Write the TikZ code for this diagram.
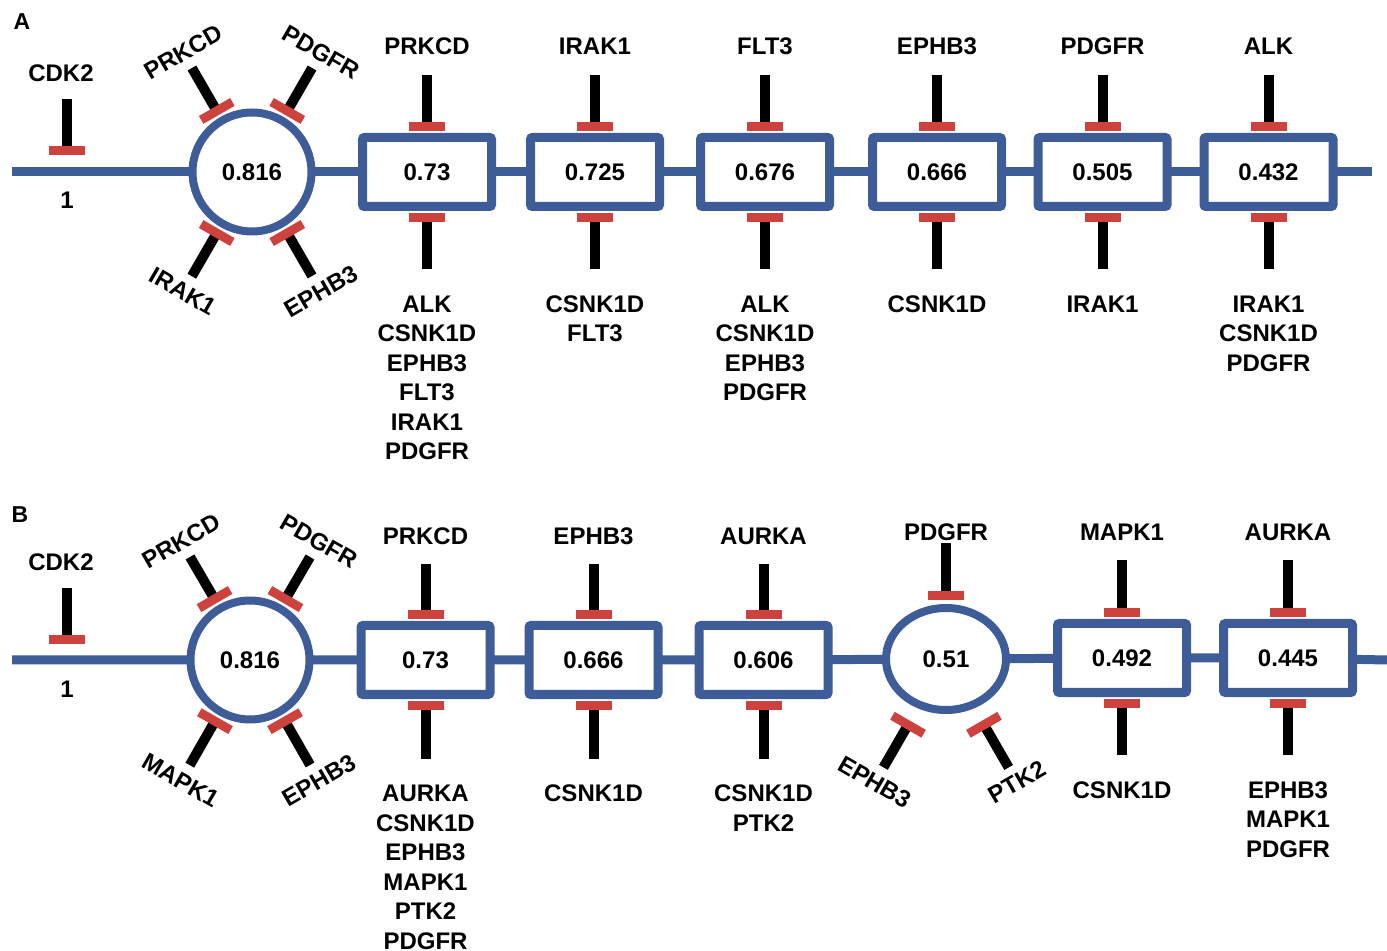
\documentclass[tikz,border=0pt]{standalone}
\usepackage{fontspec}
\setmainfont{Liberation Sans}
\usetikzlibrary{arrows.meta,shapes.geometric}
\definecolor{netblue}{RGB}{62,92,152}
\definecolor{hitred}{RGB}{206,66,62}
\tikzset{
  mainline/.style={draw=netblue,line width=4.5pt},
  valbox/.style={rectangle,draw=netblue,line width=4.5pt,fill=white,rounded corners=1pt,
    minimum width=64.5pt,minimum height=34.5pt,inner sep=0pt,outer sep=0pt,
    font=\fontsize{12}{14.75}\selectfont\bfseries},
  valcirc/.style={circle,draw=netblue,line width=4pt,fill=white,minimum size=59.5pt,
    inner sep=0pt,outer sep=0pt,font=\fontsize{12}{14.75}\selectfont\bfseries},
  valoval/.style={ellipse,draw=netblue,line width=4pt,fill=white,minimum width=60pt,
    minimum height=51pt,inner sep=0pt,outer sep=0pt,font=\fontsize{12}{14.75}\selectfont\bfseries},
  gene/.style={font=\fontsize{12}{14.75}\selectfont\bfseries,inner sep=0pt,outer sep=0pt,align=center},
  panel/.style={font=\fontsize{11.5}{13}\selectfont\bfseries,inner sep=0pt},
  inhib/.style={draw=black,line width=5pt,-{Bar[width=18pt,line width=4.5pt,color=hitred]}},
  boxhit/.style={inhib,shorten >=3.2pt},
}
\begin{document}
\begin{tikzpicture}[x=0.5pt,y=-0.5pt]
    \useasboundingbox (0,0) rectangle (1387,951);

    % panel A
    \node[panel] (panA) at (22,21.5) {A};
    \coordinate (startA) at (12,172);
    \coordinate (endA) at (1372,172);
    \coordinate (hitA) at (67,155);

    \node[valcirc] (cA) at (252,172) {0.816};
    \node[valbox] (bA1) at (427,172) {0.73};
    \node[valbox] (bA2) at (595,172) {0.725};
    \node[valbox] (bA3) at (765,172) {0.676};
    \node[valbox] (bA4) at (937,172) {0.666};
    \node[valbox] (bA5) at (1102.5,172) {0.505};
    \node[valbox] (bA6) at (1268.5,172) {0.432};

    \draw[mainline] (startA) -- (cA) -- (bA1) -- (bA2) -- (bA3) -- (bA4) -- (bA5) -- (bA6) -- (endA);

    \node[gene] (cdkA) at (61,73) {CDK2};
    \node[gene] (oneA) at (67,200) {1};
    \draw[inhib,shorten <=8.7pt] (cdkA.south -| hitA) -- (hitA);

    \node[gene,rotate=30] (pA1) at (183,52.5) {PRKCD};
    \node[gene,rotate=-30] (pA2) at (321,52.5) {PDGFR};
    \node[gene,rotate=-30] (pA3) at (183,291.5) {IRAK1};
    \node[gene,rotate=30] (pA4) at (321,291.5) {EPHB3};
    \draw[inhib,shorten <=4.7pt,shorten >=3.25pt] (pA1) -- (cA);
    \draw[inhib,shorten <=4.7pt,shorten >=3.25pt] (pA2) -- (cA);
    \draw[inhib,shorten <=4.7pt,shorten >=3.25pt] (pA3) -- (cA);
    \draw[inhib,shorten <=4.7pt,shorten >=3.25pt] (pA4) -- (cA);

    \node[gene,anchor=south] (tA1) at (427,55) {PRKCD};
    \node[gene,anchor=south] (tA2) at (595,55) {IRAK1};
    \node[gene,anchor=south] (tA3) at (765,55) {FLT3};
    \node[gene,anchor=south] (tA4) at (937,55) {EPHB3};
    \node[gene,anchor=south] (tA5) at (1102.5,55) {PDGFR};
    \node[gene,anchor=south] (tA6) at (1268.5,55) {ALK};
    \draw[boxhit,shorten <=10pt] (tA1) -- (bA1);
    \draw[boxhit,shorten <=10pt] (tA2) -- (bA2);
    \draw[boxhit,shorten <=10pt] (tA3) -- (bA3);
    \draw[boxhit,shorten <=10pt] (tA4) -- (bA4);
    \draw[boxhit,shorten <=10pt] (tA5) -- (bA5);
    \draw[boxhit,shorten <=10pt] (tA6) -- (bA6);

    \node[gene,anchor=north] (uA1) at (427,295.5) {ALK\\CSNK1D\\EPHB3\\FLT3\\IRAK1\\PDGFR};
    \node[gene,anchor=north] (uA2) at (595,295.5) {CSNK1D\\FLT3};
    \node[gene,anchor=north] (uA3) at (765,295.5) {ALK\\CSNK1D\\EPHB3\\PDGFR};
    \node[gene,anchor=north] (uA4) at (937,295.5) {CSNK1D};
    \node[gene,anchor=north] (uA5) at (1102.5,295.5) {IRAK1};
    \node[gene,anchor=north] (uA6) at (1268.5,295.5) {IRAK1\\CSNK1D\\PDGFR};
    \draw[boxhit,shorten <=13.25pt] (uA1) -- (bA1);
    \draw[boxhit,shorten <=13.25pt] (uA2) -- (bA2);
    \draw[boxhit,shorten <=13.25pt] (uA3) -- (bA3);
    \draw[boxhit,shorten <=13.25pt] (uA4) -- (bA4);
    \draw[boxhit,shorten <=13.25pt] (uA5) -- (bA5);
    \draw[boxhit,shorten <=13.25pt] (uA6) -- (bA6);

    % panel B
    \node[panel] (panB) at (20,514.5) {B};
    \coordinate (startB) at (12,660);
    \coordinate (endB) at (1387,660);
    \coordinate (hitB) at (67,644);

    \node[valcirc] (cB) at (250,660) {0.816};
    \node[valbox] (bB1) at (425.5,660) {0.73};
    \node[valbox] (bB2) at (593.5,660) {0.666};
    \node[valbox] (bB3) at (763.5,660) {0.606};
    \node[valoval] (oB) at (946,659) {0.51};
    \node[valbox] (bB4) at (1122,658) {0.492};
    \node[valbox] (bB5) at (1288,658) {0.445};

    \draw[mainline] (startB) -- (cB) -- (bB1) -- (bB2) -- (bB3) -- (oB) -- (bB4) -- (bB5) -- (endB);

    \node[gene] (cdkB) at (61,562) {CDK2};
    \node[gene] (oneB) at (67,689) {1};
    \draw[inhib,shorten <=8.7pt] (cdkB.south -| hitB) -- (hitB);

    \node[gene,rotate=30] (pB1) at (181,541.5) {PRKCD};
    \node[gene,rotate=-30] (pB2) at (319,541.5) {PDGFR};
    \node[gene,rotate=-30] (pB3) at (181,780.5) {MAPK1};
    \node[gene,rotate=30] (pB4) at (319,780.5) {EPHB3};
    \draw[inhib,shorten <=4.7pt,shorten >=3.25pt] (pB1) -- (cB);
    \draw[inhib,shorten <=4.7pt,shorten >=3.25pt] (pB2) -- (cB);
    \draw[inhib,shorten <=4.7pt,shorten >=3.25pt] (pB3) -- (cB);
    \draw[inhib,shorten <=4.7pt,shorten >=3.25pt] (pB4) -- (cB);

    \node[gene,anchor=south] (tB1) at (425.5,544.5) {PRKCD};
    \node[gene,anchor=south] (tB2) at (593.5,544.5) {EPHB3};
    \node[gene,anchor=south] (tB3) at (763.5,544.5) {AURKA};
    \node[gene,anchor=south] (tB4) at (946,540.5) {PDGFR};
    \node[gene,anchor=south] (tB5) at (1122,540.5) {MAPK1};
    \node[gene,anchor=south] (tB6) at (1288,540.5) {AURKA};
    \draw[boxhit,shorten <=10pt] (tB1) -- (bB1);
    \draw[boxhit,shorten <=10pt] (tB2) -- (bB2);
    \draw[boxhit,shorten <=10pt] (tB3) -- (bB3);
    \draw[inhib,shorten <=1.25pt,shorten >=4pt] (tB4) -- (oB);
    \draw[boxhit,shorten <=10pt] (tB5) -- (bB4);
    \draw[boxhit,shorten <=10pt] (tB6) -- (bB5);

    \node[gene,anchor=north] (uB1) at (425.5,785) {AURKA\\CSNK1D\\EPHB3\\MAPK1\\PTK2\\PDGFR};
    \node[gene,anchor=north] (uB2) at (593.5,785) {CSNK1D};
    \node[gene,anchor=north] (uB3) at (763.5,785) {CSNK1D\\PTK2};
    \node[gene,rotate=-30] (uB4) at (875,782) {EPHB3};
    \node[gene,rotate=30] (uB5) at (1017,782) {PTK2};
    \node[gene,anchor=north] (uB6) at (1122,781.5) {CSNK1D};
    \node[gene,anchor=north] (uB7) at (1288,781.5) {EPHB3\\MAPK1\\PDGFR};
    \draw[boxhit,shorten <=13.25pt] (uB1) -- (bB1);
    \draw[boxhit,shorten <=13.25pt] (uB2) -- (bB2);
    \draw[boxhit,shorten <=13.25pt] (uB3) -- (bB3);
    \draw[inhib,shorten <=4.2pt,shorten >=9.3pt] (uB4) -- (oB);
    \draw[inhib,shorten <=4.2pt,shorten >=9.3pt] (uB5) -- (oB);
    \draw[boxhit,shorten <=13.25pt] (uB6) -- (bB4);
    \draw[boxhit,shorten <=13.25pt] (uB7) -- (bB5);
\end{tikzpicture}
\end{document}
